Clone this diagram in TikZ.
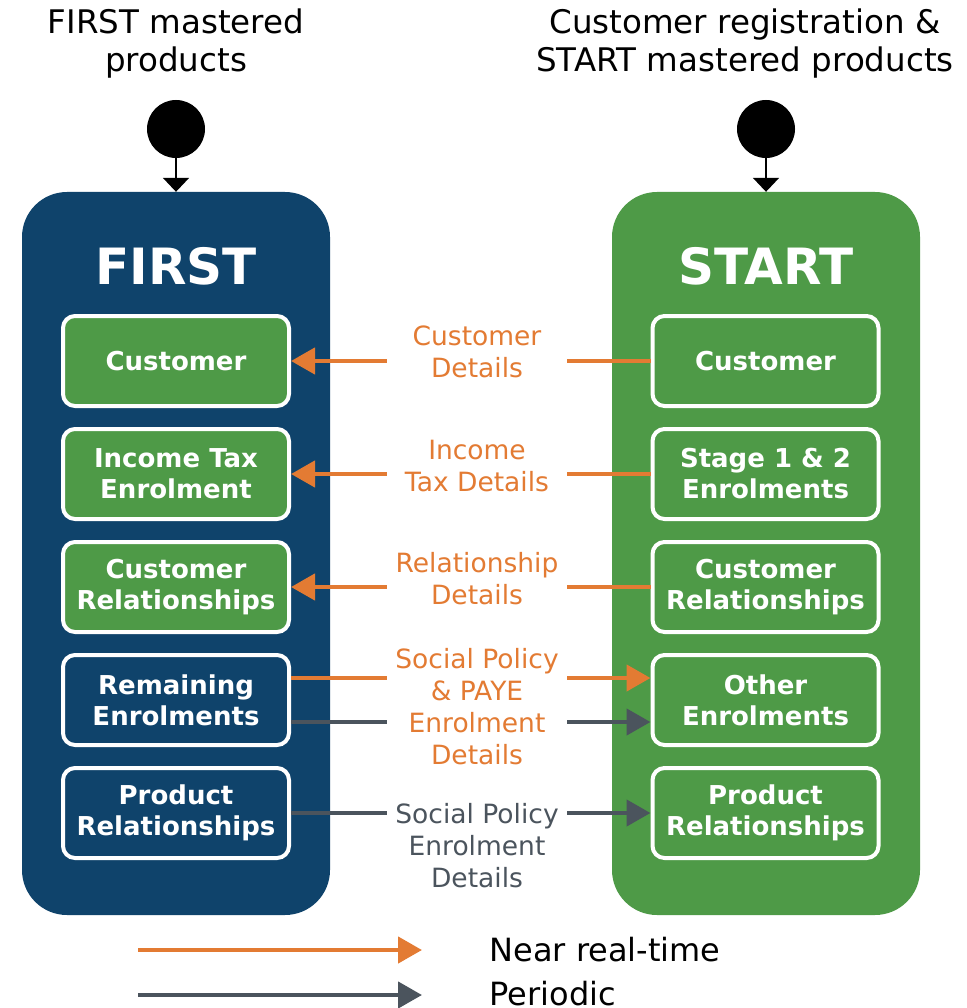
\documentclass[tikz,border=0pt]{standalone}
\usepackage{fontspec}
\setmainfont{DejaVu Sans}
\usetikzlibrary{arrows.meta}
\definecolor{fblue}{HTML}{0F436B}
\definecolor{sgreen}{HTML}{4E9A47}
\definecolor{aorange}{HTML}{E37B33}
\definecolor{agray}{HTML}{4B545D}
\begin{document}
\begin{tikzpicture}[x=1pt,y=-1pt,
  bigbox/.style={draw=none, rounded corners=45pt, minimum width=308pt, minimum height=723pt, inner sep=0pt},
  innerbox/.style={draw=white, line width=4pt, rounded corners=12pt, minimum width=226pt, minimum height=90pt, text=white, font=\bfseries\fontsize{26}{31}\selectfont, align=center, inner sep=0pt},
  lbl/.style={fill=white, align=center, font=\fontsize{26.5}{32}\selectfont, inner xsep=0pt, inner ysep=0pt, minimum width=180pt},
  orarrow/.style={draw=aorange, line width=4.5pt, -{Triangle[length=24pt,width=26pt]}},
  grarrow/.style={draw=agray, line width=4.5pt, -{Triangle[length=24pt,width=26pt]}},
  toptitle/.style={align=center, font=\fontsize{32.5}{38}\selectfont},
  bigtitle/.style={text=white, font=\bfseries\fontsize{50}{56}\selectfont},
  startdot/.style={circle, fill=black, minimum size=58pt, inner sep=0pt},
  legtext/.style={anchor=west, font=\fontsize{32}{36}\selectfont}
]
\useasboundingbox (0,0) rectangle (966,1008);

% titles
\node[toptitle] (tl) at (176,44) {FIRST mastered\\products};
\node[toptitle] (tr) at (745,44) {Customer registration \&\\START mastered products};

% big boxes
\node[bigbox, fill=fblue] (first) at (176,553.5) {};
\node[bigbox, fill=sgreen] (start) at (766,553.5) {};
\node[bigtitle] (firstt) at (176,266) {FIRST};
\node[bigtitle] (startt) at (766,266) {START};

% start dots
\node[startdot] (dl) at (176,129) {};
\node[startdot] (dr) at (766,129) {};
\draw[black, line width=2pt, -{Triangle[length=14pt,width=26pt]}] (dl.south) -- (first.north);
\draw[black, line width=2pt, -{Triangle[length=14pt,width=26pt]}] (dr.south) -- (start.north);

% inner boxes left
\node[innerbox, fill=sgreen] (fc) at (176,361) {Customer};
\node[innerbox, fill=sgreen] (fi) at (176,474) {Income Tax\\Enrolment};
\node[innerbox, fill=sgreen] (fr) at (176,587) {Customer\\Relationships};
\node[innerbox, fill=fblue] (fe) at (176,700) {Remaining\\Enrolments};
\node[innerbox, fill=fblue] (fp) at (176,813) {Product\\Relationships};

% inner boxes right
\node[innerbox, fill=sgreen] (sc) at (765.5,361) {Customer};
\node[innerbox, fill=sgreen] (si) at (765.5,474) {Stage 1 \& 2\\Enrolments};
\node[innerbox, fill=sgreen] (sr) at (765.5,587) {Customer\\Relationships};
\node[innerbox, fill=sgreen] (se) at (765.5,700) {Other\\Enrolments};
\node[innerbox, fill=sgreen] (sp) at (765.5,813) {Product\\Relationships};

% arrows
\draw[orarrow] (sc.west) -- (fc.east);
\draw[orarrow] (si.west) -- (fi.east);
\draw[orarrow] (sr.west) -- (fr.east);
\draw[orarrow] ([yshift=22pt]fe.east) -- ([yshift=22pt]se.west);
\draw[grarrow] ([yshift=-22pt]fe.east) -- ([yshift=-22pt]se.west);
\draw[grarrow] (fp.east) -- (sp.west);

% labels
\node[lbl, text=aorange] (l1) at (477,352) {Customer\\Details};
\node[lbl, text=aorange] (l2) at (477,466) {Income\\Tax Details};
\node[lbl, text=aorange] (l3) at (477,579) {Relationship\\Details};
\node[lbl, text=aorange] (l4) at (477,707) {Social Policy\\\& PAYE\\Enrolment\\Details};
\node[lbl, text=agray] (l5) at (477,846) {Social Policy\\Enrolment\\Details};

% legend
\coordinate (la1) at (138,950);
\coordinate (lb1) at (422,950);
\coordinate (la2) at (138,995);
\coordinate (lb2) at (422,995);
\draw[orarrow] (la1) -- (lb1);
\draw[grarrow] (la2) -- (lb2);
\node[legtext] (lt1) at (486,950) {Near real-time};
\node[legtext] (lt2) at (486,994) {Periodic};
\end{tikzpicture}
\end{document}
